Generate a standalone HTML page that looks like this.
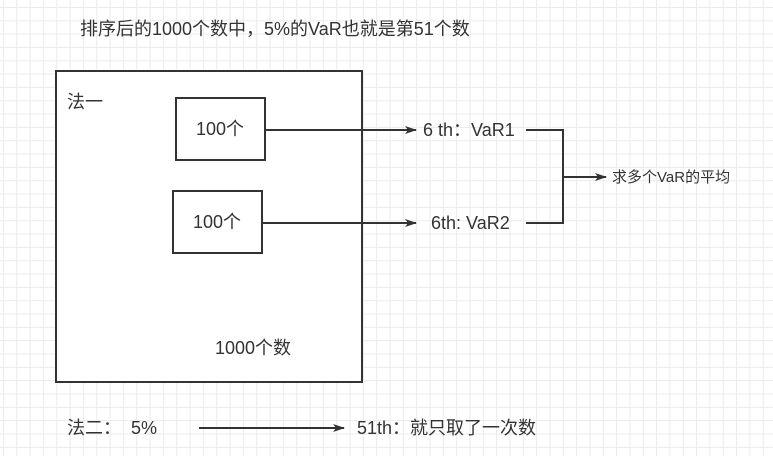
<!DOCTYPE html>
<html><head><meta charset="utf-8"><style>
body{margin:0;width:773px;height:456px;overflow:hidden;background:#fff;
background-image:linear-gradient(#ebebeb 1px,transparent 1px),linear-gradient(90deg,#ebebeb 1px,transparent 1px);
background-size:13.33px 13.33px;background-position:3px 7px;
font-family:"Liberation Sans","Noto Sans CJK SC",sans-serif;color:#333}
svg{position:absolute;left:0;top:0}
.t{position:absolute;white-space:nowrap;font-size:18px;line-height:20px}
</style></head><body>
<svg width="773" height="456">
<defs><marker id="a" markerWidth="12" markerHeight="8" refX="11" refY="4" orient="auto" markerUnits="userSpaceOnUse"><path d="M0,0L12,4L0,8L3,4Z" fill="#333"/></marker></defs>
<g stroke="#333" stroke-width="2" fill="#fff">
<rect x="56" y="71" width="306" height="311"/>
<rect x="176" y="98" width="89" height="62"/>
<rect x="173" y="191" width="89" height="62"/>
</g>
<g stroke="#333" stroke-width="2" fill="none">
<line x1="265" y1="130" x2="416" y2="130" marker-end="url(#a)"/>
<line x1="262" y1="223" x2="416" y2="223" marker-end="url(#a)"/>
<polyline points="526,130 563,130 563,223 526,223"/>
<line x1="563" y1="177" x2="606" y2="177" marker-end="url(#a)"/>
<line x1="199" y1="428" x2="344" y2="428" marker-end="url(#a)"/>
</g>
</svg>
<div class="t" style="left:80px;top:19px">排序后的1000个数中，5%的VaR也就是第51个数</div>
<div class="t" style="left:67px;top:92px">法一</div>
<div class="t" style="left:196px;top:119px">100个</div>
<div class="t" style="left:193px;top:212px">100个</div>
<div class="t" style="left:423px;top:120px">6 th：VaR1</div>
<div class="t" style="left:431px;top:213px">6th: VaR2</div>
<div class="t" style="left:612px;top:170px;font-size:15px;line-height:16px">求多个VaR的平均</div>
<div class="t" style="left:215px;top:338px">1000个数</div>
<div class="t" style="left:67px;top:418px">法二：&nbsp;&nbsp;5%</div>
<div class="t" style="left:357px;top:418px">51th：就只取了一次数</div>
</body></html>
